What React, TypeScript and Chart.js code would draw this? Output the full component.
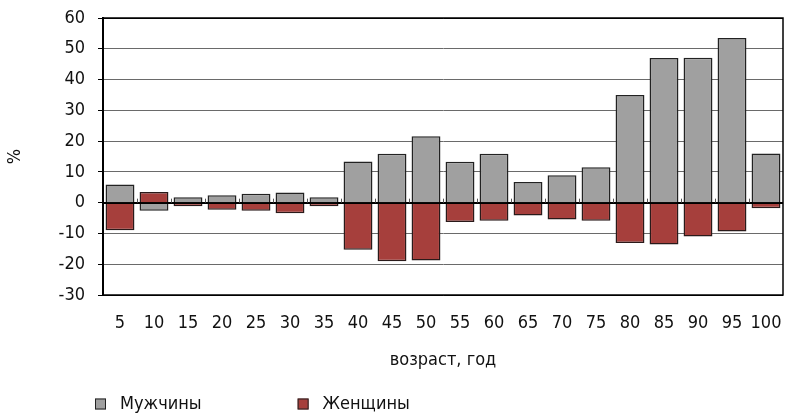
import React, { useEffect, useRef } from "react";
import { Chart, registerables } from "chart.js";

Chart.register(...registerables);

const categories = ["5", "10", "15", "20", "25", "30", "35", "40", "45", "50", "55", "60", "65", "70", "75", "80", "85", "90", "95", "100"];
const menValues = [5.9, -2.6, 1.8, 2.4, 2.9, 3.3, 1.8, 13.4, 15.9, 21.6, 13.3, 15.9, 6.7, 8.9, 11.5, 35.0, 47.0, 47.1, 53.5, 16.0];
const womenValues = [-9.0, 3.5, -1.2, -2.3, -2.6, -3.4, -1.2, -15.3, -19.0, -18.8, -6.3, -5.9, -4.2, -5.5, -5.9, -13.1, -13.6, -11.0, -9.4, -1.8];
const seriesLabels = ["Мужчины", "Женщины"];
const yTitle = "%";
const xTitle = "возраст, год";

const FONT = "'Liberation Sans Narrow', 'DejaVu Sans Condensed', 'Liberation Sans', sans-serif";
const GREY = "#a0a0a0";
const RED = "#a63f3c";

const decorPlugin = {
  id: "decor",
  afterDatasetsDraw(chart: any) {
    const { ctx, chartArea } = chart;
    const xs = chart.scales.x;
    const ys = chart.scales.y;
    const zeroY = ys.getPixelForValue(0);
    ctx.save();
    ctx.strokeStyle = "#555";
    ctx.lineWidth = 1;
    const n = chart.data.labels.length;
    for (let i = 1; i < n; i++) {
      const x = Math.round((xs.getPixelForValue(i - 1) + xs.getPixelForValue(i)) / 2) + 0.5;
      ctx.beginPath();
      ctx.moveTo(x, zeroY);
      ctx.lineTo(x, zeroY - 4);
      ctx.stroke();
    }
    ctx.strokeStyle = "#000";
    ctx.beginPath();
    ctx.moveTo(chartArea.left, Math.round(zeroY) + 0.5);
    ctx.lineTo(chartArea.right, Math.round(zeroY) + 0.5);
    ctx.stroke();
    ctx.lineWidth = 1.5;
    ctx.strokeRect(chartArea.left, chartArea.top, chartArea.right - chartArea.left, chartArea.bottom - chartArea.top);
    ctx.restore();
  },
  afterDraw(chart: any) {
    const { ctx } = chart;
    ctx.save();
    ctx.font = "18px " + FONT;
    ctx.textBaseline = "middle";
    ctx.textAlign = "left";
    let x = 95;
    const y = 404;
    chart.data.datasets.forEach((ds: any) => {
      ctx.fillStyle = ds.backgroundColor;
      ctx.fillRect(x, y - 5.5, 11, 11);
      ctx.strokeStyle = "#222";
      ctx.lineWidth = 1;
      ctx.strokeRect(x + 0.5, y - 5, 10, 10);
      ctx.fillStyle = "#111";
      ctx.fillText(ds.label, x + 25, y);
      x = x + 25 + ctx.measureText(ds.label).width + 96;
    });
    ctx.restore();
  },
};

export default function App() {
  const ref = useRef<HTMLCanvasElement | null>(null);
  useEffect(() => {
    document.body.style.margin = "0";
    const chart = new Chart(ref.current as HTMLCanvasElement, {
      type: "bar",
      data: {
        labels: categories,
        datasets: [
          {
            label: seriesLabels[0],
            data: menValues,
            backgroundColor: GREY,
            borderColor: "#222",
            borderWidth: 1.5,
            barPercentage: 0.85,
            categoryPercentage: 1,
          },
          {
            label: seriesLabels[1],
            data: womenValues,
            backgroundColor: RED,
            borderColor: "#2a1a1a",
            borderWidth: 1.5,
            barPercentage: 0.85,
            categoryPercentage: 1,
          },
        ],
      },
      options: {
        animation: false,
        responsive: false,
        devicePixelRatio: 1,
        layout: { padding: { top: 18, right: 5, left: 0, bottom: 0 } },
        plugins: {
          legend: { display: false },
          tooltip: { enabled: false },
        },
        scales: {
          x: {
            stacked: true,
            grid: { display: false, drawTicks: true, tickLength: 17 },
            border: { display: false },
            ticks: { color: "#111", font: { family: FONT, size: 18 }, padding: 1, maxRotation: 0, autoSkip: false },
            title: { display: true, text: xTitle, color: "#111", font: { family: FONT, size: 18 }, padding: { top: 4, bottom: 43 } },
            afterFit: (s: any) => { s.height = 119; },
          },
          y: {
            stacked: false,
            min: -30,
            max: 60,
            ticks: { stepSize: 10, color: "#111", font: { family: FONT, size: 18 }, padding: 13 },
            grid: {
              color: (c: any) => (c.tick && (c.tick.value === 0 || c.tick.value === 60 || c.tick.value === -30) ? "#000" : "#6a6a6a"),
              tickColor: "#000",
              tickLength: 5,
              lineWidth: 1,
            },
            border: { display: true, color: "#000", width: 2 },
            title: { display: true, text: yTitle, color: "#111", font: { family: FONT, size: 18 }, padding: { top: 5, bottom: 4 } },
            afterFit: (s: any) => { s.width = 103; s.paddingTop = 8; s.paddingBottom = 8; },
          },
        },
      },
      plugins: [decorPlugin],
    });
    return () => chart.destroy();
  }, []);
  return (
    <div style={{ width: 788, height: 414, background: "#fff" }}>
      <canvas ref={ref} width={788} height={414} style={{ width: 788, height: 414, display: "block" }} />
    </div>
  );
}
